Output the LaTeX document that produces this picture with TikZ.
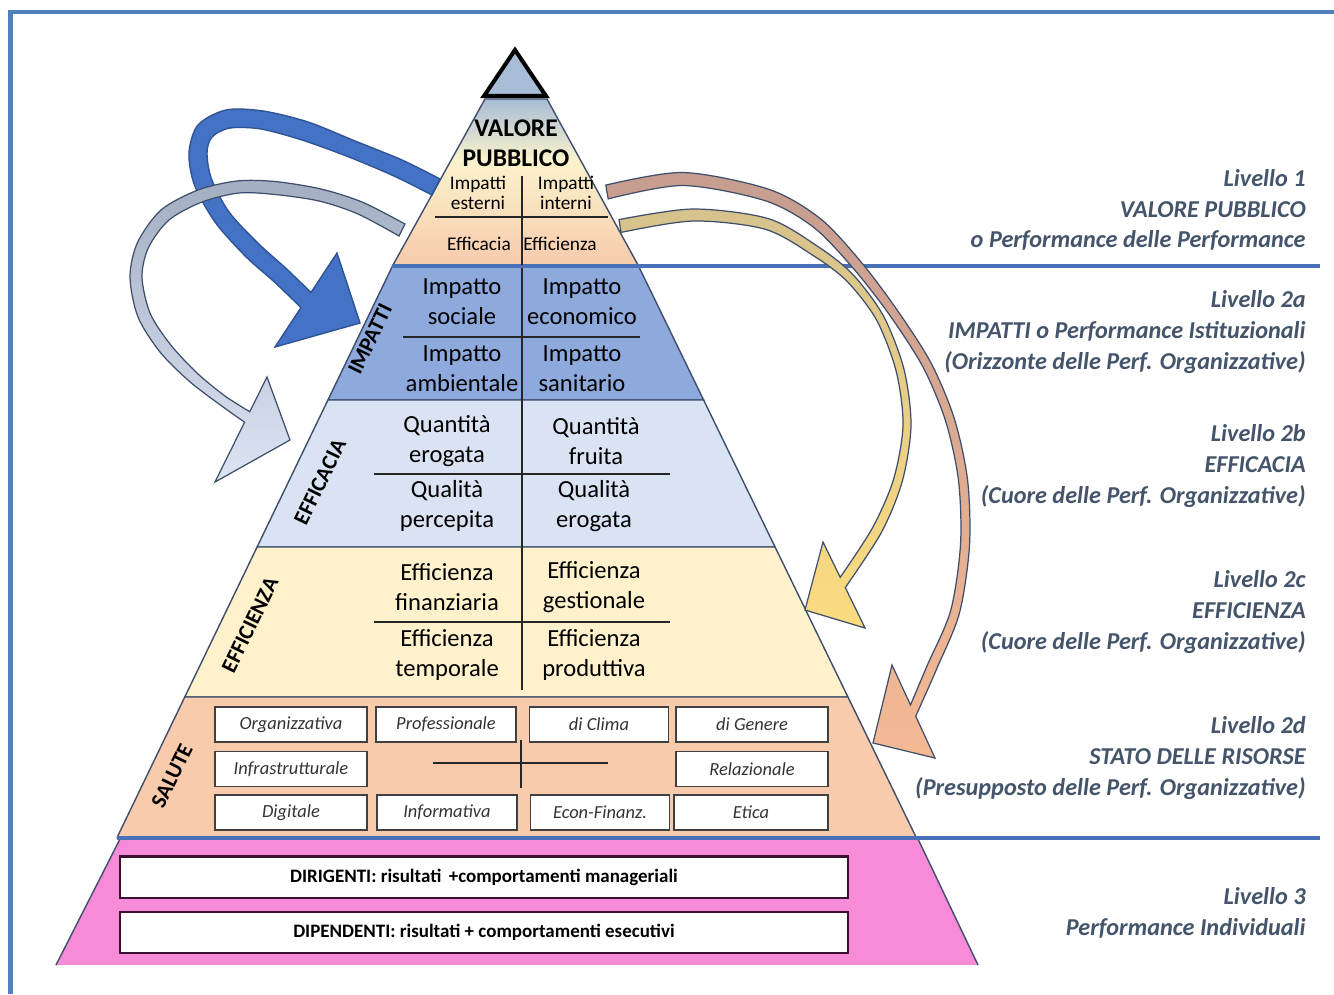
\documentclass[tikz,border=0pt]{standalone}
\usepackage{fontspec}
\setmainfont{Carlito}
\definecolor{frameblue}{HTML}{4F81BD}
\definecolor{lineblue}{HTML}{4A70B8}
\definecolor{edgecol}{HTML}{3E4E6C}
\definecolor{apexcol}{HTML}{A9BCD6}
\definecolor{vpyel}{HTML}{FAF3CC}
\definecolor{impcol}{HTML}{8EAADC}
\definecolor{efccol}{HTML}{DAE3F3}
\definecolor{eficol}{HTML}{FEF1CB}
\definecolor{salcol}{HTML}{F8CBAD}
\definecolor{indcol}{HTML}{F78BD8}
\definecolor{indline}{HTML}{3A1030}
\definecolor{livcol}{HTML}{44546A}
\definecolor{arrblue}{HTML}{4472C4}
\definecolor{arrblueline}{HTML}{2F5597}
\definecolor{arrgreytop}{HTML}{A3AEC2}
\definecolor{arrgreybot}{HTML}{DDE5F3}
\definecolor{arrbrowntop}{HTML}{C69D90}
\definecolor{arrbrownbot}{HTML}{F5BA94}
\definecolor{arryeltop}{HTML}{D6C28C}
\definecolor{arryelbot}{HTML}{FCDC80}
\tikzset{
  bandtxt/.style={align=center, font=\fontsize{14}{17}\selectfont},
  toptxt/.style={align=center, inner sep=0pt, font=\fontsize{11}{11.4}\selectfont},
  sidelbl/.style={rotate=64, inner sep=1pt, font=\fontsize{12.5}{14}\selectfont\bfseries},
  salbox/.style={draw=black!75, fill=white, line width=0.8pt, minimum height=0.7cm, text=black!80, font=\fontsize{10.5}{12}\selectfont\itshape},
  indbox/.style={draw=indline, fill=white, line width=1.4pt, minimum width=14.56cm, minimum height=0.83cm, font=\fontsize{10.8}{12}\selectfont\bfseries},
  livello/.style={anchor=east, align=right, inner sep=0pt, text=livcol, font=\fontsize{13.8}{17.5}\selectfont\bfseries\itshape},
  divider/.style={line width=0.9pt, black!85},
  bigarrow/.style={draw=edgecol, line width=0.7pt}
}
\begin{document}
\begin{tikzpicture}[x=0.02cm, y=-0.02cm]
\useasboundingbox (0,0) rectangle (1334,994);
\fill[white] (0,0) rectangle (1334,994);
\draw[frameblue, line width=2.8pt] (10.5,994) -- (10.5,12) -- (1334,12);

\shade[top color=apexcol, bottom color=vpyel] (485,99) -- (547,99) -- (580.4,160) -- (451.2,160) -- cycle;
\shade[top color=vpyel, bottom color=salcol] (451.2,159.5) -- (580.4,159.5) -- (638,265) -- (393,265) -- cycle;
\draw[edgecol, line width=0.8pt] (393,265) -- (485,99) -- (547,99) -- (638,265);
\foreach \ya/\yb/\col in {265/400/impcol, 400/547/efccol, 547/697/eficol, 697/837/salcol}
  \filldraw[fill=\col, draw=edgecol, line width=0.8pt] ({393-0.482*(\ya-265)},\ya) -- ({638+0.486*(\ya-265)},\ya) -- ({638+0.486*(\yb-265)},\yb) -- ({393-0.482*(\yb-265)},\yb) -- cycle;
\fill[indcol] (120,839) -- (918,839) -- (978,965) -- (56,965) -- cycle;
\draw[edgecol, line width=0.8pt] (120,839) -- (56,965) (918,839) -- (978,965);
\draw[line width=2.3pt, fill=apexcol] (515,50) -- (546,96) -- (484,96) -- cycle;
\draw[lineblue, line width=2.3pt] (392,266) -- (1320,266);
\draw[lineblue, line width=2.3pt] (117,838) -- (1320,838);

\draw[divider] (522,176) -- (522,265) (435,217) -- (608,217);
\draw[divider] (522,268) -- (522,690);
\draw[divider] (403,337) -- (640,337) (374,474) -- (670,474) (374,622) -- (670,622);
\draw[divider] (521,740) -- (521,788) (433,763) -- (608,763);

\shadedraw[bigarrow, top color=arryeltop, bottom color=arryelbot]
  plot[smooth] coordinates {(619,219.6) (692.9,209) (768.6,218.7) (819.8,247.8) (853.2,274.9) (883.5,316.1) (903.9,369) (911,425.1) (902.3,481.2) (881.4,532.4) (845.3,587.6)}
  -- (865,628) -- (805,610) -- (823,542) --
  plot[smooth] coordinates {(840.2,577.3) (872.6,527.6) (893.7,478.8) (903,424.9) (896.1,371) (876.5,319.9) (846.8,281.1) (814.2,256.2) (765.4,229.3) (693.1,221) (621,232.4)}
  -- cycle;
\shadedraw[bigarrow, top color=arrbrowntop, bottom color=arrbrownbot]
  plot[smooth] coordinates {(605.8,185.1) (683.1,172.5) (768.9,189.3) (820.4,218.7) (860.8,261.7) (896.7,309.4) (931,362.9) (954.3,418.6) (967.5,479.5) (969.5,545.3) (959.4,613.2) (936.6,669) (915.7,716.2)}
  -- (935,758) -- (873,743) -- (892,665) --
  plot[smooth] coordinates {(910.5,705) (927.4,665) (950.6,610.8) (960.5,544.7) (958.5,480.5) (945.7,421.4) (923,367.1) (889.3,314.6) (853.2,268.3) (813.6,227.3) (765.1,200.7) (682.9,185.5) (608.2,198.9)}
  -- cycle;
\filldraw[fill=arrblue, draw=arrblueline, line width=0.8pt]
  plot[smooth] coordinates {(440,179) (402,160) (355,141) (308,122) (263,111) (226,110) (198,125) (189,153) (194.5,185) (215,222) (245.6,256.4) (274,281.6) (301,307.5)}
  -- (275,347) -- (360,323) -- (337,253) --
  plot[smooth] coordinates {(311,292.5) (286,268.4) (258.4,243.6) (229,212) (211.5,179) (207,153) (212,137) (230,128) (261,129) (302,140) (349,157) (394,176) (432,195)}
  -- cycle;
\shadedraw[bigarrow, top color=arrgreytop, bottom color=arrgreybot]
  plot[smooth] coordinates {(405,224) (362,202) (321,189) (275,181.5) (237,181) (198,190) (161,210) (137.5,242.5) (130,277) (138,317) (160,352) (189,381) (219,404) (244.6,422.2)}
  -- (215,482) -- (290,440) -- (267,377) --
  plot[smooth] coordinates {(249.8,411.7) (225,396) (197,373) (170,344) (150,313) (142,277) (148.5,247.5) (169,220) (202,202) (239,193) (275,194.5) (319,201) (358,214) (399,236)}
  -- cycle;

\node[align=center, font=\fontsize{14.5}{17}\selectfont\bfseries] (vp) at (516,143) {VALORE\\PUBBLICO};
\node[toptxt] (iest) at (478,193) {Impatti\\esterni};
\node[toptxt] (iint) at (566,193) {Impatti\\interni};
\node[toptxt] (efca) at (479,244) {Efficacia};
\node[toptxt] (efci) at (560,244) {Efficienza};

\foreach \x/\y/\t [count=\i] in {462/302/{Impatto\\sociale}, 582/302/{Impatto\\economico}, 462/369/{Impatto\\ambientale}, 582/369/{Impatto\\sanitario},
    447/441/{Quantità\\erogata}, 596/441/{Quantità\\fruita}, 447/506/{Qualità\\percepita}, 594/506/{Qualità\\erogata},
    447/587/{Efficienza\\finanziaria}, 594/587/{Efficienza\\gestionale}, 447/655/{Efficienza\\temporale}, 594/655/{Efficienza\\produttiva}}
  \node[bandtxt] (b\i) at (\x,\y) {\t};

\node[sidelbl] (simp) at (370,339) {IMPATTI};
\node[sidelbl] (sefc) at (320,482) {EFFICACIA};
\node[sidelbl] (sefi) at (250,625) {EFFICIENZA};
\node[sidelbl] (ssal) at (172,776) {SALUTE};

\foreach \x/\y/\w/\t [count=\i] in {291/724.5/152/Organizzativa, 446/724.5/140/Professionale, 599/724.5/139/di Clima, 752/724.5/152/di Genere,
    291/769/152/Infrastrutturale, 752/769/152/Relazionale,
    291/812.5/152/Digitale, 447/812.5/140/Informativa, 600/812.5/139/Econ-Finanz., 751/812.5/154/Etica}
  \node[salbox, minimum width=\w*0.02cm] (s\i) at (\x,\y) {\t};

\node[indbox] (dir) at (484,877) {DIRIGENTI: risultati \,+comportamenti manageriali};
\node[indbox] (dip) at (484,932.5) {DIPENDENTI: risultati + comportamenti esecutivi};

\node[livello] (liv1) at (1306,210) {Livello 1\\VALORE PUBBLICO\\o Performance delle Performance};
\node[livello] (liv2a) at (1306,332) {Livello 2a\\IMPATTI o Performance Istituzionali\\(Orizzonte delle Perf. Organizzative)};
\node[livello] (liv2b) at (1306,466) {Livello 2b\\EFFICACIA\\(Cuore delle Perf. Organizzative)};
\node[livello] (liv2c) at (1306,612) {Livello 2c\\EFFICIENZA\\(Cuore delle Perf. Organizzative)};
\node[livello] (liv2d) at (1306,758) {Livello 2d\\STATO DELLE RISORSE\\(Presupposto delle Perf. Organizzative)};
\node[livello] (liv3) at (1306,913) {Livello 3\\Performance Individuali};
\end{tikzpicture}
\end{document}
